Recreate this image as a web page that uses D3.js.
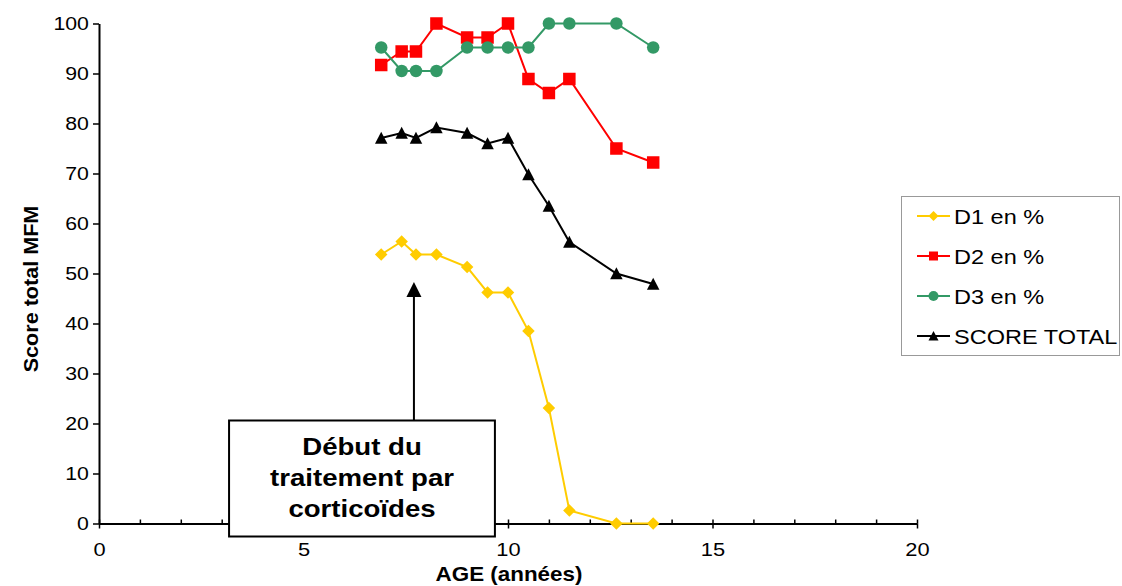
<!DOCTYPE html>
<html>
<head>
<meta charset="utf-8">
<script src="https://cdn.jsdelivr.net/npm/d3@7"></script>
<style>
  body { margin: 0; background: #fff; }
  svg { display: block; font-family: "Liberation Sans", Arial, sans-serif; }
</style>
</head>
<body>
<svg id="chart" width="1122" height="586"></svg>
<script>
// ages (years) and the 4 series
const ages = [6.9, 7.4, 7.75, 8.25, 9, 9.5, 10, 10.5, 11, 11.5, 12.65, 13.55];
const d1 = [53.8, 56.4, 53.8, 53.8, 51.3, 46.2, 46.2, 38.5, 23.1, 2.6, 0, 0];
const d2 = [91.7, 94.4, 94.4, 100, 97.2, 97.2, 100, 88.9, 86.1, 88.9, 75.0, 72.2];
const d3s = [95.2, 90.5, 90.5, 90.5, 95.2, 95.2, 95.2, 95.2, 100, 100, 100, 95.2];
const total = [77.1, 78.1, 77.1, 79.2, 78.1, 76.0, 77.1, 69.8, 63.5, 56.3, 50.0, 47.9];

const seriesNames = ["D1 en %", "D2 en %", "D3 en %", "SCORE TOTAL"];
const xTicks = [0, 5, 10, 15, 20];
const yTicks = [0, 10, 20, 30, 40, 50, 60, 70, 80, 90, 100];

// annotation: arrow at treatment start, box with label
const treatAge = 7.7, treatTip = 48.3;
const boxX = [3.18, 9.68], boxY = [20.6, -2.6];
const boxLines = ["Début du", "traitement par", "corticoïdes"];

const svg = d3.select("#chart");

const x = d3.scaleLinear().domain([0, 20]).range([99, 917]);
const y = d3.scaleLinear().domain([0, 100]).range([523.5, 23.5]);

const series = [
  { name: seriesNames[0], values: d1, color: "#FFCC00", shape: "diamond" },
  { name: seriesNames[1], values: d2, color: "#FF0000", shape: "square" },
  { name: seriesNames[2], values: d3s, color: "#339966", shape: "circle" },
  { name: seriesNames[3], values: total, color: "#000000", shape: "triangle" }
];

// text in the original looks horizontally stretched
function wideText(parent, px, py, sx, str) {
  return parent.append("text")
    .attr("transform", `translate(${px},${py}) scale(${sx},1)`)
    .text(str);
}

function marker(g, shape, s, color) {
  if (shape == "square") {
    g.append("rect").attr("x", -s / 2).attr("y", -s / 2).attr("width", s).attr("height", s).attr("fill", color);
  } else if (shape == "circle") {
    g.append("circle").attr("r", s / 2).attr("fill", color);
  } else if (shape == "diamond") {
    const h = s / 2;
    g.append("path").attr("d", `M0,${-h}L${h},0L0,${h}L${-h},0Z`).attr("fill", color);
  } else {
    const h = s / 2;
    g.append("path").attr("d", `M0,${-h}L${h},${h * 0.9}L${-h},${h * 0.9}Z`).attr("fill", color);
  }
}

// y axis
const yAxis = svg.append("g")
  .attr("transform", `translate(${x(0)},0)`)
  .call(d3.axisLeft(y).tickValues(yTicks).tickSize(6).tickSizeOuter(0).tickPadding(3));
yAxis.select(".domain").attr("stroke-width", 2);
yAxis.selectAll(".tick line").attr("stroke-width", 1.5);
yAxis.selectAll("text").attr("font-size", 19).attr("fill", "#000").attr("font-family", null)
  .attr("transform", "scale(1.12,1)");

// x axis: majors cross the line, minor ticks go up only
const xAxis = svg.append("g")
  .attr("transform", `translate(0,${y(0)})`)
  .call(d3.axisBottom(x).tickValues(xTicks).tickSize(5).tickSizeOuter(0).tickPadding(14));
xAxis.select(".domain").attr("stroke-width", 2);
xAxis.selectAll(".tick line").attr("stroke-width", 1.5);
xAxis.selectAll("text").attr("font-size", 19).attr("fill", "#000").attr("font-family", null)
  .attr("transform", "scale(1.15,1)");

const xMinor = svg.append("g")
  .attr("transform", `translate(0,${y(0)})`)
  .call(d3.axisTop(x).tickValues(d3.range(0, 21)).tickSize(4).tickSizeOuter(0).tickFormat(""));
xMinor.select(".domain").remove();
xMinor.selectAll(".tick line").attr("stroke-width", 1.5);

// lines + markers
const line = d3.line().x((d, i) => x(ages[i])).y(d => y(d));

series.forEach(s => {
  svg.append("path")
    .datum(s.values)
    .attr("d", line)
    .attr("fill", "none")
    .attr("stroke", s.color)
    .attr("stroke-width", 2);
  s.values.forEach((v, i) => {
    const g = svg.append("g").attr("transform", `translate(${x(ages[i])},${y(v)})`);
    marker(g, s.shape, 12.5, s.color);
  });
});

// arrow
svg.append("line")
  .attr("x1", x(treatAge)).attr("x2", x(treatAge))
  .attr("y1", y(boxY[0])).attr("y2", y(treatTip) + 12)
  .attr("stroke", "#000").attr("stroke-width", 2);
svg.append("path")
  .attr("d", `M${x(treatAge)},${y(treatTip)}l7.5,15l-15,0Z`)
  .attr("fill", "#000");

// annotation box
svg.append("rect")
  .attr("x", x(boxX[0])).attr("y", y(boxY[0]))
  .attr("width", x(boxX[1]) - x(boxX[0]))
  .attr("height", y(boxY[1]) - y(boxY[0]))
  .attr("fill", "#fff").attr("stroke", "#000").attr("stroke-width", 2);

boxLines.forEach((t, i) => {
  wideText(svg, (x(boxX[0]) + x(boxX[1])) / 2, y(boxY[0]) + 34 + i * 31, 1.2, t)
    .attr("text-anchor", "middle")
    .attr("font-size", 23).attr("font-weight", "bold");
});

// axis titles
wideText(svg, 509, 581, 1.12, "AGE (années)")
  .attr("text-anchor", "middle")
  .attr("font-size", 20).attr("font-weight", "bold");

svg.append("text")
  .attr("transform", "translate(31,289) rotate(-90) scale(1.08,1)")
  .attr("dy", "0.36em")
  .attr("text-anchor", "middle")
  .attr("font-size", 20).attr("font-weight", "bold")
  .text("Score total MFM");

// legend
const legend = svg.append("g");
legend.append("rect")
  .attr("x", 901.5).attr("y", 196.5)
  .attr("width", 218).attr("height", 159)
  .attr("fill", "#fff").attr("stroke", "#999").attr("stroke-width", 1);

series.forEach((s, i) => {
  const cy = 216 + i * 40;
  legend.append("line")
    .attr("x1", 917).attr("x2", 950).attr("y1", cy).attr("y2", cy)
    .attr("stroke", s.color).attr("stroke-width", 2);
  const g = legend.append("g").attr("transform", `translate(933.5,${cy})`);
  marker(g, s.shape, s.shape == "square" ? 9 : 10, s.color);
  wideText(legend, 954, cy + 7.5, 1.12, s.name)
    .attr("font-size", 21);
});
</script>
</body>
</html>
